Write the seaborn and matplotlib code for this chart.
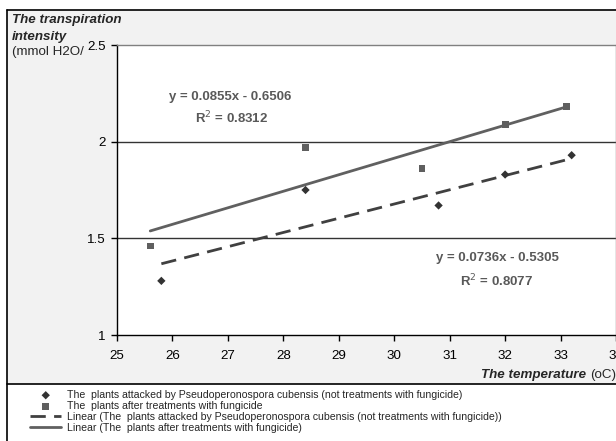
import numpy as np
import pandas as pd
import matplotlib
matplotlib.use("Agg")
import matplotlib.pyplot as plt
from matplotlib.lines import Line2D
from matplotlib.patches import Rectangle
import seaborn as sns

# data
attacked_temp = [25.8, 28.4, 30.8, 32.0, 33.2]
attacked_transp = [1.28, 1.75, 1.67, 1.83, 1.93]
treated_temp = [25.6, 28.4, 30.5, 32.0, 33.1]
treated_transp = [1.46, 1.97, 1.86, 2.09, 2.18]

# trendline coefficients as printed on the chart
attacked_fit = (0.0736, -0.5305, 0.8077)
treated_fit = (0.0855, -0.6506, 0.8312)

x_ticks = [25, 26, 27, 28, 29, 30, 31, 32, 33, 34]
y_ticks = [1, 1.5, 2, 2.5]
y_tick_labels = ["1", "1.5", "2", "2.5"]

label_attacked = "The  plants attacked by Pseudoperonospora cubensis (not treatments with fungicide)"
label_treated = "The  plants after treatments with fungicide"

W, H = 616, 441


def px(x, y):
    # pixel position (from top-left) -> figure fraction
    return x / W, 1 - y / H


sns.set_theme(style="white")
plt.rcParams["font.family"] = ["Liberation Sans", "DejaVu Sans"]

fig = plt.figure(figsize=(W / 100, H / 100), dpi=100)
fig.patch.set_facecolor("white")

# chart background and frame
x0, y0 = px(7, 384)
x1, y1 = px(616, 10)
fig.patches.append(Rectangle((x0, y0), x1 - x0, y1 - y0, transform=fig.transFigure,
                             facecolor="#f2f2f2", edgecolor="none", zorder=-2))
for xs, ys in [((7, 616), (10, 10)), ((7, 7), (10, 441)), ((7, 616), (384, 384))]:
    fa, fb = px(xs[0], ys[0]), px(xs[1], ys[1])
    fig.lines.append(Line2D([fa[0], fb[0]], [fa[1], fb[1]], transform=fig.transFigure,
                            color="black", lw=1.2, zorder=-1))

left, bottom = px(117, 335)
right, top = px(616, 45)
ax = fig.add_axes([left, bottom, right - left, top - bottom])
ax.set_zorder(2)
ax.set_facecolor("white")

df_a = pd.DataFrame({"temp": attacked_temp, "transp": attacked_transp})
df_t = pd.DataFrame({"temp": treated_temp, "transp": treated_transp})

sns.scatterplot(data=df_a, x="temp", y="transp", ax=ax, marker="D", s=18,
                color="#333333", edgecolor="none", label=label_attacked, zorder=4)
sns.scatterplot(data=df_t, x="temp", y="transp", ax=ax, marker="s", s=24,
                color="#5f5f5f", edgecolor="none", label=label_treated, zorder=4)

xa = np.array([min(attacked_temp), max(attacked_temp)])
xt = np.array([min(treated_temp), max(treated_temp)])
sns.lineplot(x=xa, y=attacked_fit[0] * xa + attacked_fit[1], ax=ax, color="#404040",
             lw=2.0, label="Linear (" + label_attacked + ")", zorder=3)
ax.lines[-1].set_dashes((5.5, 3))
sns.lineplot(x=xt, y=treated_fit[0] * xt + treated_fit[1], ax=ax, color="#606060",
             lw=2.0, label="Linear (" + label_treated + ")", zorder=3)

ax.set_xlim(25, 34)
ax.set_ylim(1, 2.5)
ax.set_xticks(x_ticks)
ax.set_yticks(y_ticks)
ax.set_yticklabels(y_tick_labels)
ax.set_xlabel("")
ax.set_ylabel("")
ax.tick_params(axis="both", direction="out", length=4, width=1, colors="black",
               labelsize=9.6, labelcolor="black")
ax.tick_params(axis="x", pad=7, bottom=True)
ax.tick_params(axis="y", pad=4, left=True)
for yv in [1.5, 2]:
    ax.axhline(yv, color="#333333", lw=1, zorder=1)
ax.spines["left"].set_color("black")
ax.spines["bottom"].set_color("black")
ax.spines["top"].set_color("#808080")
ax.spines["right"].set_color("#808080")
for s in ax.spines.values():
    s.set_linewidth(1)

handles, labels = ax.get_legend_handles_labels()
ax.get_legend().remove()

# equation annotations
eq_kw = dict(fontsize=9.5, fontweight="bold", color="#595959", ha="center", va="center")
fig.text(*px(230, 97), "y = %.4fx - %.4f" % (treated_fit[0], -treated_fit[1]), **eq_kw)
fig.text(*px(232, 118), "R$^2$ = %.4f" % treated_fit[2], **eq_kw)
fig.text(*px(497, 258), "y = %.4fx - %.4f" % (attacked_fit[0], -attacked_fit[1]), **eq_kw)
fig.text(*px(497, 281), "R$^2$ = %.4f" % attacked_fit[2], **eq_kw)

# axis titles
fig.text(*px(12, 20), "The transpiration", fontsize=9.6, fontweight="bold",
         fontstyle="italic", va="center")
fig.text(*px(12, 37), "intensity", fontsize=9.6, fontweight="bold",
         fontstyle="italic", va="center")
fig.text(*px(12, 52), "(mmol H2O/", fontsize=9.6, va="center")
fig.text(*px(586, 375), "The temperature", fontsize=9.6, fontweight="bold",
         fontstyle="italic", ha="right", va="center")
fig.text(*px(590, 375), "(oC)", fontsize=9.6, ha="left", va="center")

fig.legend(handles, labels, loc="upper left", bbox_to_anchor=px(30, 390),
           frameon=False, fontsize=7.55, handlelength=3.0, handletextpad=0.5,
           labelspacing=0.1, borderpad=0, borderaxespad=0)

fig.savefig("out.png", dpi=100)
